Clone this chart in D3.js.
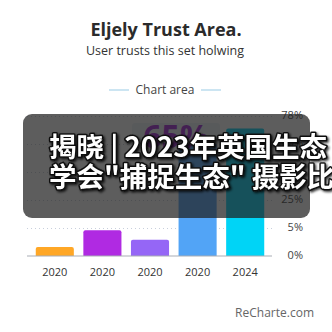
<!DOCTYPE html>
<html>
<head>
<meta charset="utf-8">
<script src="https://cdn.jsdelivr.net/npm/d3@7"></script>
<style>
  html, body { margin: 0; padding: 0; background: #fff; }
  svg { display: block; }
</style>
</head>
<body>
<div id="chart"></div>
<script>

// data
var categories = ["2020", "2020", "2020", "2020", "2024"];
var values = [1.6, 4.6, 2.9, 65, 70];
var barColors = ["#ffa726", "#b02ae2", "#9566f6", "#52a4f6", "#00d4f6"];
var tickValues = [0, 5, 25, 40, 60, 78];
var tickLabels = ["0%", "5%", "25%", "40%", "60%", "78%"];
var highlightLabel = "65%";
var bannerLines = ["揭晓 | 2023年英国生态", "学会\"捕捉生态\" 摄影比赛"];

var svg_width = 332;
var svg_height = 332;
var plot_left = 27;
var plot_right = 272;
var plot_bottom = 256;
var tick_step = 28; // ticks are evenly spaced even though values are not

var svg = d3.select('#chart')
            .append('svg')
            .attr('width', svg_width)
            .attr('height', svg_height);

svg.append('rect')
   .attr('width', svg_width)
   .attr('height', svg_height)
   .attr('fill', '#fff');

var defs = svg.append('defs');
var shadow = defs.append('filter')
                 .attr('id', 'txtshadow')
                 .attr('x', '-10%').attr('y', '-30%')
                 .attr('width', '130%').attr('height', '160%');
shadow.append('feDropShadow')
      .attr('dx', 1.5).attr('dy', 1.5)
      .attr('stdDeviation', 1)
      .attr('flood-color', '#000')
      .attr('flood-opacity', 0.8);

// headings
svg.append('text')
   .attr('x', 166).attr('y', 36)
   .attr('text-anchor', 'middle')
   .attr('font-family', 'Open Sans, sans-serif')
   .attr('font-weight', 'bold')
   .attr('font-size', 18)
   .attr('fill', '#2b2b2b')
   .text('Eljely Trust Area.');

svg.append('text')
   .attr('x', 165).attr('y', 55)
   .attr('text-anchor', 'middle')
   .attr('font-family', 'Open Sans, sans-serif')
   .attr('font-size', 12.5)
   .attr('fill', '#333')
   .text('User trusts this set holwing');

svg.append('text')
   .attr('x', 165).attr('y', 94)
   .attr('text-anchor', 'middle')
   .attr('font-family', 'Open Sans, sans-serif')
   .attr('font-size', 12)
   .attr('fill', '#444')
   .text('Chart area');

[[109, 129], [201, 221]].forEach(function(seg) {
  svg.append('line')
     .attr('x1', seg[0]).attr('x2', seg[1])
     .attr('y1', 90).attr('y2', 90)
     .attr('stroke', '#a9d3ea')
     .attr('stroke-width', 1.2);
});

// scales
var xScale = d3.scaleBand()
               .domain(d3.range(categories.length))
               .range([31, 269])
               .paddingInner(0.2)
               .paddingOuter(0.1);

var yScale = d3.scaleLinear()
               .domain(tickValues)
               .range(tickValues.map(function(d, i) {return plot_bottom - i * tick_step}));

// gridlines
svg.append('g')
   .selectAll('line')
   .data(tickValues.slice(1))
   .enter()
     .append('line')
     .attr('x1', plot_left).attr('x2', plot_right)
     .attr('y1', function(d) {return yScale(d) + 0.5})
     .attr('y2', function(d) {return yScale(d) + 0.5})
     .attr('stroke', '#c8cfdc')
     .attr('stroke-dasharray', '1,3');

// bars
svg.append('g')
   .selectAll('path')
   .data(values)
   .enter()
     .append('path')
     .attr('fill', function(d, i) {return barColors[i]})
     .attr('d', function(d, i) {
       var x0 = xScale(i), w = xScale.bandwidth();
       var y0 = yScale(d), r = 2;
       return 'M' + x0 + ',' + plot_bottom +
              'V' + (y0 + r) + 'Q' + x0 + ',' + y0 + ' ' + (x0 + r) + ',' + y0 +
              'H' + (x0 + w - r) + 'Q' + (x0 + w) + ',' + y0 + ' ' + (x0 + w) + ',' + (y0 + r) +
              'V' + plot_bottom + 'Z';
     });

// x axis
var xAxis = d3.axisBottom(xScale)
              .tickSize(0)
              .tickPadding(12)
              .tickFormat(function(i) {return categories[i]});

var gx = svg.append('g')
            .attr('transform', 'translate(0,' + plot_bottom + ')')
            .call(xAxis);
gx.select('.domain').remove();
gx.append('line')
  .attr('x1', plot_left).attr('x2', plot_right)
  .attr('stroke', '#a9adb5');
gx.selectAll('text')
  .attr('font-family', 'Open Sans, sans-serif')
  .attr('font-size', 11)
  .attr('fill', '#333');

// y axis on the right
var yAxis = d3.axisRight(yScale)
              .tickValues(tickValues)
              .tickSize(0)
              .tickPadding(0)
              .tickFormat(function(d, i) {return tickLabels[i]});

var gy = svg.append('g')
            .attr('transform', 'translate(303,-1)')
            .call(yAxis);
gy.select('.domain').remove();
gy.selectAll('text')
  .attr('text-anchor', 'end')
  .attr('font-family', 'Open Sans, sans-serif')
  .attr('font-size', 11)
  .attr('fill', '#444');

// highlight label over the fourth bar
var hl = svg.append('g');
hl.append('rect')
  .attr('x', 132).attr('y', 123)
  .attr('width', 88).attr('height', 21)
  .attr('rx', 3)
  .attr('fill', '#eef2f8');
hl.append('text')
  .attr('x', 176).attr('y', 148)
  .attr('text-anchor', 'middle')
  .attr('font-family', 'Open Sans, sans-serif')
  .attr('font-weight', 'bold')
  .attr('font-size', 32)
  .attr('fill', '#a227d6')
  .text(highlightLabel);

// banner overlay
svg.append('rect')
   .attr('x', 23).attr('y', 114)
   .attr('width', 287).attr('height', 104)
   .attr('rx', 9)
   .attr('fill', 'rgba(30,30,30,0.72)');

var banner = svg.append('g')
                .attr('filter', 'url(#txtshadow)');
banner.selectAll('text')
  .data(bannerLines)
  .enter()
    .append('text')
    .attr('x', 49)
    .attr('y', function(d, i) {return 157 + i * 30})
    .attr('font-family', 'Noto Sans CJK SC, sans-serif')
    .attr('font-weight', 'bold')
    .attr('font-size', 27.5)
    .attr('fill', '#fff')
    .attr('stroke', '#111')
    .attr('stroke-width', 3)
    .attr('paint-order', 'stroke')
    .attr('stroke-linejoin', 'round')
    .text(function(d) {return d});

// watermark
svg.append('text')
   .attr('x', 314).attr('y', 317)
   .attr('text-anchor', 'end')
   .attr('font-family', 'Open Sans, sans-serif')
   .attr('font-size', 12)
   .attr('fill', '#666')
   .text('ReCharte.com');

</script>
</body>
</html>
